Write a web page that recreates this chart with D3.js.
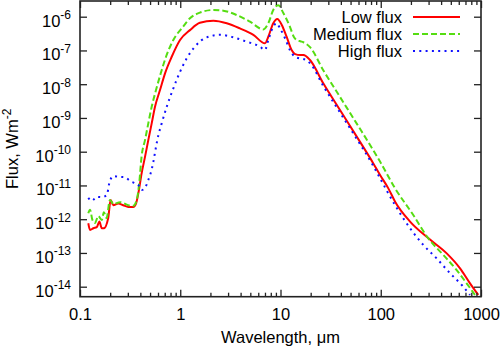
<!DOCTYPE html>
<html><head><meta charset="utf-8">
<script src="https://cdnjs.cloudflare.com/ajax/libs/d3/7.8.5/d3.min.js"></script>
<style>
html,body{margin:0;padding:0;background:#fff;}
svg{display:block;font-family:"Liberation Sans",Arial,Helvetica,sans-serif;}
</style></head>
<body><svg id="c" width="501" height="349"></svg>
<script>
// ---- data ----
const lowWl   = [0.121,0.126,0.136,0.147,0.156,0.165,0.173,0.191,0.202,0.215,0.241,0.270,0.303,0.340,0.362,0.382,0.412,0.445,0.480,0.519,0.560,0.628,0.705,0.822,0.995,1.25,1.57,2.14,2.91,3.94,5.36,7.0,7.56,8.47,9.29,10.3,11.5,12.9,14.0,15.7,16.9,19.7,26.7,39.2,57.6,84.3,98.4,119,139,196,310,455,618,777,940];
const lowFlux = [7.6e-13,4.8e-13,5.4e-13,5.8e-13,8.5e-13,5.4e-13,5.4e-13,1.07e-12,3.7e-12,2.6e-12,2.9e-12,2.6e-12,2.3e-12,2.3e-12,2.9e-12,5.9e-12,2.3e-11,7.0e-11,2.2e-10,6.9e-10,2.15e-9,6.7e-9,2.1e-8,6.5e-8,2.04e-7,4.0e-7,6.6e-7,7.6e-7,6.4e-7,4.5e-7,2.9e-7,1.63e-7,2.55e-7,6.4e-7,8.5e-7,5.7e-7,2.55e-7,1.03e-7,7.8e-8,7.3e-8,7.3e-8,5.2e-8,1.06e-8,1.72e-9,2.8e-10,4.5e-11,2.04e-11,8.2e-12,3.3e-12,8.5e-13,2.5e-13,9.7e-14,3.5e-14,1.26e-14,5.7e-15];

const medWl   = [0.121,0.126,0.133,0.141,0.152,0.165,0.173,0.184,0.199,0.215,0.251,0.303,0.340,0.368,0.390,0.412,0.445,0.480,0.519,0.573,0.639,0.721,0.853,1.07,1.25,1.57,2.14,2.69,3.66,4.97,6.74,7.56,8.47,9.5,10.7,12.4,13.6,14.6,16.0,16.9,19.7,26.7,39.2,57.6,84.3,98.4,139,211,298,421,572,719,871];
const medFlux = [1.5e-12,1.9e-12,9.5e-13,7.7e-13,1.24e-12,9.5e-13,1.6e-12,1.09e-12,3.7e-12,2.8e-12,3.2e-12,2.6e-12,2.5e-12,3.7e-12,1.2e-11,7.5e-11,2.2e-10,6.9e-10,2.15e-9,6.7e-9,2.1e-8,6.5e-8,2.04e-7,5.1e-7,9.0e-7,1.32e-6,1.58e-6,1.51e-6,1.12e-6,7.1e-7,4.2e-7,6.4e-7,1.58e-6,2.2e-6,1.26e-6,5.1e-7,2.5e-7,2.0e-7,1.85e-7,1.75e-7,1.25e-7,2.6e-8,4.2e-9,6.8e-10,1.1e-10,5.1e-11,8.2e-12,1.33e-12,2.7e-13,8.7e-14,3.1e-14,1.26e-14,5.7e-15];

const highWl   = [0.121,0.131,0.147,0.165,0.185,0.196,0.215,0.241,0.281,0.315,0.346,0.382,0.412,0.452,0.480,0.507,0.539,0.565,0.590,0.653,0.733,0.841,0.98,1.16,1.40,1.84,2.49,3.38,4.60,6.25,7.0,7.56,8.47,9.16,9.89,11.1,12.4,14.0,15.7,16.9,19.7,26.7,39.2,57.6,84.3,98.4,139,196,266,361,491,643,777];
const highFlux = [4.3e-12,3.5e-12,4.6e-12,4.5e-12,5.2e-12,1.16e-11,1.9e-11,1.8e-11,1.75e-11,1.38e-11,1.2e-11,1.03e-11,7.3e-12,9.2e-12,1.45e-11,2.3e-11,5.0e-11,1.1e-10,2.2e-10,6.9e-10,2.15e-9,6.7e-9,2.1e-8,5.8e-8,1.3e-7,2.45e-7,2.9e-7,2.45e-7,1.82e-7,1.29e-7,1.03e-7,2.04e-7,5.1e-7,6.4e-7,4.5e-7,2.3e-7,1.03e-7,6.5e-8,5.8e-8,5.6e-8,4.2e-8,8.9e-9,1.45e-9,2.4e-10,3.8e-11,1.63e-11,2.6e-12,5.4e-13,1.72e-13,6.9e-14,2.5e-14,1.12e-14,5.7e-15];

const seriesNames = ["Low flux","Medium flux","High flux"];
const xTickValues = [0.1,1,10,100,1000];
const xTickLabels = ["0.1","1","10","100","1000"];
const yTickExps = [-6,-7,-8,-9,-10,-11,-12,-13,-14];
const xTitle = "Wavelength, \u03bcm";
const yTitle = "Flux, Wm";
const yTitleSup = "-2";

// ---- layout ----
const L=80, R=481, T=1, B=296.7;
const svg = d3.select("#c");
const x = d3.scaleLog().domain([0.1,1000]).range([L,R]);
const y = d3.scaleLog().domain([1e-14,1e-6]).range([286.7,16.7]);

const series = [
  {name:seriesNames[0], wl:lowWl,  f:lowFlux,  color:"#ff0000", dash:null},
  {name:seriesNames[1], wl:medWl,  f:medFlux,  color:"#55dd11", dash:"6,3"},
  {name:seriesNames[2], wl:highWl, f:highFlux, color:"#1010ff", dash:"2,4.3"}
];

svg.append("defs").append("clipPath").attr("id","clip")
  .append("rect").attr("x",L).attr("y",T).attr("width",R-L).attr("height",B-T);

const line = d3.line().x(d=>x(d[0])).y(d=>y(d[1])).curve(d3.curveMonotoneX);
const g = svg.append("g").attr("clip-path","url(#clip)");
series.forEach(s=>{
  g.append("path").datum(s.wl.map((w,i)=>[w,s.f[i]]))
    .attr("d",line).attr("fill","none").attr("stroke",s.color)
    .attr("stroke-width",2).attr("stroke-dasharray",s.dash);
});

// minor x ticks
const minorX = [];
[0.1,1,10,100].forEach(d=>{for(let k=2;k<=9;k++) minorX.push(d*k);});
const axCol="#222";
function styleAxis(sel){
  sel.select(".domain").remove();
  sel.selectAll("line").attr("stroke",axCol).attr("stroke-width",1.3);
}
// bottom major with labels
const xb = svg.append("g").attr("transform",`translate(0,${B})`)
  .call(d3.axisBottom(x).tickValues(xTickValues).tickSizeInner(-7).tickSizeOuter(0)
    .tickPadding(0).tickFormat((d,i)=>xTickLabels[i]));
styleAxis(xb);
xb.selectAll("text").attr("y",null).attr("dy",null).attr("transform","translate(0,23.5)")
  .attr("font-size",16.5).attr("fill","#000").attr("font-family","Liberation Sans, Arial, sans-serif");
svg.append("g").attr("transform",`translate(0,${B})`)
  .call(d3.axisBottom(x).tickValues(minorX).tickSizeInner(-4).tickSizeOuter(0).tickFormat(""))
  .call(styleAxis);
// top
svg.append("g").attr("transform",`translate(0,${T})`)
  .call(d3.axisTop(x).tickValues(xTickValues).tickSizeInner(-7).tickSizeOuter(0).tickFormat(""))
  .call(styleAxis);
svg.append("g").attr("transform",`translate(0,${T})`)
  .call(d3.axisTop(x).tickValues(minorX).tickSizeInner(-4).tickSizeOuter(0).tickFormat(""))
  .call(styleAxis);
// left
const yTickVals = yTickExps.map(e=>Math.pow(10,e));
const yl = svg.append("g").attr("transform",`translate(${L},0)`)
  .call(d3.axisLeft(y).tickValues(yTickVals).tickSizeInner(-7).tickSizeOuter(0).tickFormat(""));
styleAxis(yl);
yl.selectAll(".tick").each(function(d,i){
  const t = d3.select(this).append("text").attr("x",-9).attr("y",9.3)
    .attr("text-anchor","end").attr("fill","#000").attr("font-size",16.5);
  t.append("tspan").text("10");
  t.append("tspan").attr("dy",-7.5).attr("font-size",12).text(String(yTickExps[i]).replace("-","\u2212").replace("\u2212","-"));
});
// right
svg.append("g").attr("transform",`translate(${R},0)`)
  .call(d3.axisRight(y).tickValues(yTickVals).tickSizeInner(-7).tickSizeOuter(0).tickFormat(""))
  .call(styleAxis);

// frame
svg.append("rect").attr("x",L).attr("y",T).attr("width",R-L).attr("height",B-T)
  .attr("fill","none").attr("stroke",axCol).attr("stroke-width",1.6);

// titles
svg.append("text").attr("x",(L+R)/2).attr("y",343).attr("text-anchor","middle")
  .attr("font-size",16.5).attr("fill","#000").text(xTitle);
const yt = svg.append("text").attr("transform",`translate(18,${(T+B)/2}) rotate(-90)`)
  .attr("text-anchor","middle").attr("font-size",16.5).attr("fill","#000");
yt.append("tspan").text(yTitle);
yt.append("tspan").attr("dy",-7.5).attr("font-size",12).text(yTitleSup);

// legend
const lg = svg.append("g");
series.forEach((s,i)=>{
  const cy = 17 + i*17;
  lg.append("text").attr("x",402).attr("y",cy+6).attr("text-anchor","end")
    .attr("font-size",16.5).attr("fill","#000").text(s.name);
  lg.append("line").attr("x1",413).attr("x2",460).attr("y1",cy).attr("y2",cy)
    .attr("stroke",s.color).attr("stroke-width",2).attr("stroke-dasharray",s.dash);
});
</script></body></html>
